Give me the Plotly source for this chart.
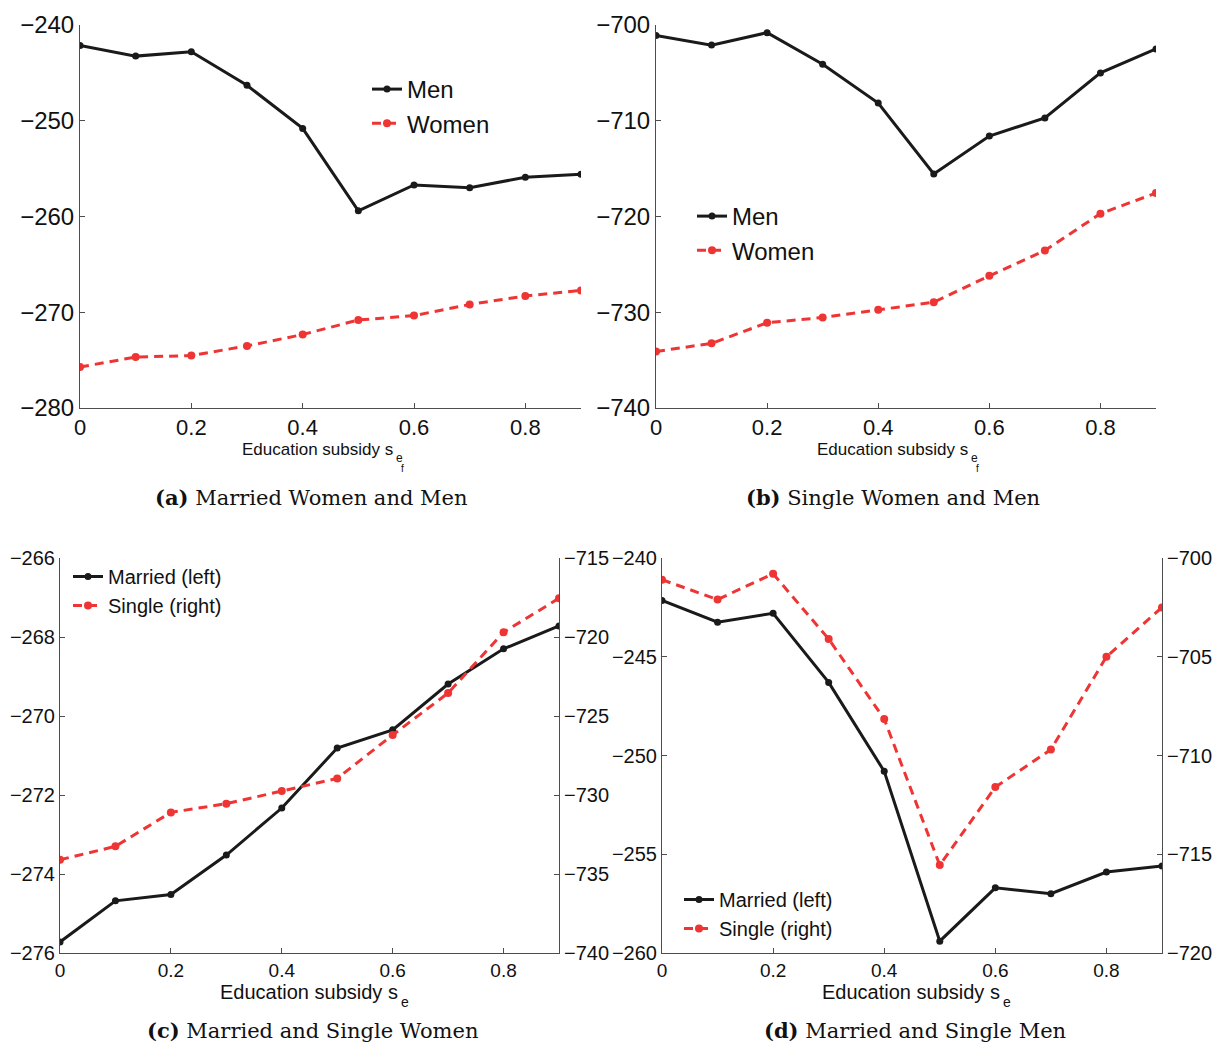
import plotly.graph_objects as go

W, H = 1214, 1042

subsidy = [0.0, 0.1, 0.2, 0.3, 0.4, 0.5, 0.6, 0.7, 0.8, 0.9]
married_men = [-242.15, -243.25, -242.8, -246.3, -250.8, -259.4, -256.7, -257.0, -255.9, -255.6]
married_women = [-275.72, -274.68, -274.52, -273.52, -272.33, -270.81, -270.35, -269.19, -268.3, -267.72]
single_men = [-701.1, -702.1, -700.8, -704.1, -708.15, -715.55, -711.6, -709.7, -705.0, -702.5]
single_women = [-734.1, -733.25, -731.1, -730.55, -729.75, -728.95, -726.2, -723.55, -719.7, -717.55]

xtick_vals = [0, 0.2, 0.4, 0.6, 0.8]
captions = ["<b>(a)</b> Married Women and Men", "<b>(b)</b> Single Women and Men",
            "<b>(c)</b> Married and Single Women", "<b>(d)</b> Married and Single Men"]
legend_ab = ["Men", "Women"]
legend_cd = ["Married (left)", "Single (right)"]
xtitle = "Education subsidy s"
sub1 = "e"
sub2 = "f"

BLACK = "#1a1a1a"
RED = "#ef3434"
AXC = "#4d4d4d"
TXT = "#111111"
SANS = "Liberation Sans, Arial, sans-serif"
SERIF = "DejaVu Serif, serif"


def px(x):
    return x / W


def py(y):
    return 1 - y / H


# domains in paper coordinates (from pixel positions)
dom = {
    "a": ([px(80), px(581)], [py(408), py(25)]),
    "b": ([px(656), px(1156)], [py(408), py(25)]),
    "c": ([px(60), px(559)], [py(953), py(558)]),
    "d": ([px(662), px(1162)], [py(953), py(558)]),
}

fig = go.Figure()


def black_trace(x, y, name, xa, ya, leg):
    return go.Scatter(x=x, y=y, name=name, xaxis=xa, yaxis=ya, legend=leg,
                      mode="lines+markers",
                      line=dict(color=BLACK, width=3),
                      marker=dict(color=BLACK, size=7))


def red_trace(x, y, name, xa, ya, leg):
    return go.Scatter(x=x, y=y, name=name, xaxis=xa, yaxis=ya, legend=leg,
                      mode="lines+markers",
                      line=dict(color=RED, width=3, dash="9px,6px"),
                      marker=dict(color=RED, size=8))


# (a)
fig.add_trace(black_trace(subsidy, married_men, legend_ab[0], "x", "y", "legend"))
fig.add_trace(red_trace(subsidy, married_women, legend_ab[1], "x", "y", "legend"))
# (b)
fig.add_trace(black_trace(subsidy, single_men, legend_ab[0], "x2", "y2", "legend2"))
fig.add_trace(red_trace(subsidy, single_women, legend_ab[1], "x2", "y2", "legend2"))
# (c)
fig.add_trace(black_trace(subsidy, married_women, legend_cd[0], "x3", "y3", "legend3"))
fig.add_trace(red_trace(subsidy, single_women, legend_cd[1], "x3", "y5", "legend3"))
# (d)
fig.add_trace(black_trace(subsidy, married_men, legend_cd[0], "x4", "y4", "legend4"))
fig.add_trace(red_trace(subsidy, single_men, legend_cd[1], "x4", "y6", "legend4"))


def xaxis(domain, anchor, fs):
    return dict(domain=domain, anchor=anchor, range=[0, 0.9], tickvals=xtick_vals,
                ticks="inside", ticklen=5, tickcolor=AXC, showline=True, linecolor=AXC,
                linewidth=1, showgrid=False, zeroline=False, automargin=False,
                tickfont=dict(family=SANS, size=fs, color=TXT), fixedrange=True)


def yaxis(domain, anchor, rng, dt, fs, side="left", overlaying=None):
    d = dict(domain=domain, anchor=anchor, range=rng, dtick=dt, tick0=rng[0],
             ticks="inside", ticklen=5, tickcolor=AXC, showline=True, linecolor=AXC,
             linewidth=1, showgrid=False, zeroline=False, automargin=False, side=side,
             tickfont=dict(family=SANS, size=fs, color=TXT), fixedrange=True)
    if overlaying:
        d["overlaying"] = overlaying
    return d


FS_AB = 24
FS_CD = 20

fig.update_layout(
    width=W, height=H, margin=dict(l=0, r=0, t=0, b=0),
    paper_bgcolor="white", plot_bgcolor="rgba(0,0,0,0)",
    xaxis=xaxis(dom["a"][0], "y", 22),
    yaxis=yaxis(dom["a"][1], "x", [-280, -240], 10, FS_AB),
    xaxis2=xaxis(dom["b"][0], "y2", 22),
    yaxis2=yaxis(dom["b"][1], "x2", [-740, -700], 10, FS_AB),
    xaxis3=xaxis(dom["c"][0], "y3", 19),
    yaxis3=yaxis(dom["c"][1], "x3", [-276, -266], 2, FS_CD),
    yaxis5=yaxis(dom["c"][1], "x3", [-740, -715], 5, FS_CD, side="right", overlaying="y3"),
    xaxis4=xaxis(dom["d"][0], "y4", 19),
    yaxis4=yaxis(dom["d"][1], "x4", [-260, -240], 5, FS_CD),
    yaxis6=yaxis(dom["d"][1], "x4", [-720, -700], 5, FS_CD, side="right", overlaying="y4"),
    showlegend=True,
)


def legend(x, y, fs):
    return dict(x=x, y=y, xanchor="left", yanchor="top", bgcolor="rgba(0,0,0,0)",
                borderwidth=0, font=dict(family=SANS, size=fs, color=TXT),
                tracegroupgap=0, itemwidth=30)


fig.update_layout(
    legend=legend(px(367), py(67), FS_AB),
    legend2=legend(px(692), py(194), FS_AB),
    legend3=legend(px(68), py(557), FS_CD),
    legend4=legend(px(679), py(880), FS_CD),
)

anns = []


def note(x, y, text, size, anchor="center", family=SANS):
    anns.append(dict(x=px(x), y=py(y), xref="paper", yref="paper", text=text,
                     showarrow=False, xanchor=anchor, yanchor="middle", borderpad=0,
                     font=dict(family=family, size=size, color=TXT)))


# axis titles with stacked subscripts
for xend, ymid, fs, fsub, two in [(394, 449, 17, 12, True), (969, 449, 17, 12, True),
                                  (399, 992, 20, 14, False), (1001, 992, 20, 14, False)]:
    note(xend, ymid, xtitle, fs, anchor="right")
    note(xend + 1, ymid + fs * 0.5, sub1, fsub, anchor="left")
    if two:
        note(xend + 6, ymid + fs * 1.12, sub2, 10, anchor="left")

# captions
for cap, cx, cy in [(captions[0], 311, 497), (captions[1], 893, 497),
                    (captions[2], 312, 1030), (captions[3], 915, 1030)]:
    note(cx, cy, cap, 21, family=SERIF)

fig.update_layout(annotations=anns)

fig.write_html("out.html")
